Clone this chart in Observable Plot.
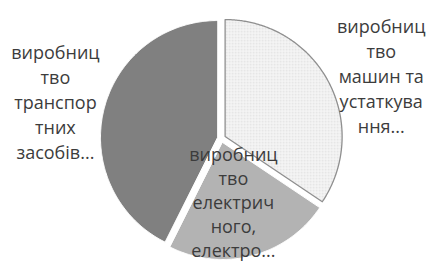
<!DOCTYPE html>
<html><head><meta charset="utf-8">
<script src="https://cdn.jsdelivr.net/npm/d3@7"></script>
<script src="https://cdn.jsdelivr.net/npm/@observablehq/plot@0.6"></script>
<style>body{margin:0;background:#fff}</style>
</head><body><div id="chart"></div>
<script>
// ---- data ----
const categories = [
  "виробництво машин та устаткування",
  "виробництво електричного, електронного та оптичного устаткування",
  "виробництво транспортних засобів"
];
const labels = [
  "виробниц\nтво\nмашин та\nустаткува\nння...",
  "виробниц\nтво\nелектрич\nного,\nелектро...",
  "виробниц\nтво\nтранспор\nтних\nзасобів..."
];
const values = [34.4, 23.0, 42.6];

// ---- style / layout ----
const W = 426, H = 264;
const cx = 221, cy = 138, Rpx = 117;          // pie centre and radius in px
const explode = 0.035;                         // slice offset (radius units)
const sliceFill = ["url(#dots)", "#b3b3b3", "#808080"];
const sliceStroke = ["#8f8f8f", "#ffffff", "#ffffff"];
const sliceStrokeWidth = [1.3, 1, 1];
const labelRadius = [1.47, 0.6, 1.45];
const labelDx = [8, -6, -1];
const labelDy = [17, -5, 2];
const labelLine = [25, 24, 25];
const font = "Open Sans";

const arcs = d3.pie().sort(null).value(d => d)(values);
const pts = [];
const lab = [];
arcs.forEach((a, i) => {
  const mid = (a.startAngle + a.endAngle) / 2;
  const ox = explode * Math.sin(mid), oy = explode * Math.cos(mid);
  pts.push({i, x: ox, y: oy});
  const n = Math.ceil((a.endAngle - a.startAngle) / 0.01);
  for (let k = 0; k <= n; k++) {
    const t = a.startAngle + (a.endAngle - a.startAngle) * k / n;
    pts.push({i, x: ox + Math.sin(t), y: oy + Math.cos(t)});
  }
  lab.push({i, category: categories[i], text: labels[i],
            x: labelRadius[i] * Math.sin(mid), y: labelRadius[i] * Math.cos(mid)});
});

const marks = [];
arcs.forEach((a, i) => {
  marks.push(Plot.line(pts.filter(d => d.i === i), {
    x: "x", y: "y", curve: "linear-closed",
    fill: sliceFill[i], stroke: sliceStroke[i], strokeWidth: sliceStrokeWidth[i]
  }));
});
arcs.forEach((a, i) => {
  marks.push(Plot.text(lab.filter(d => d.i === i), {
    x: "x", y: "y", text: "text", dx: labelDx[i], dy: labelDy[i],
    fontSize: 18, lineHeight: labelLine[i] / 18, fill: "#3c3c3c", fontFamily: font
  }));
});

const svg = Plot.plot({
  width: W, height: H, margin: 0,
  x: {domain: [-cx / Rpx, (W - cx) / Rpx], range: [0, W], axis: null},
  y: {domain: [-(H - cy) / Rpx, cy / Rpx], range: [H, 0], axis: null},
  style: {background: "#fff"},
  marks
});
const ns = "http://www.w3.org/2000/svg";
const defs = document.createElementNS(ns, "defs");
defs.innerHTML = '<pattern id="dots" width="3" height="3" patternUnits="userSpaceOnUse">' +
  '<rect width="3" height="3" fill="#f7f7f7"/><rect x="0.5" y="0.5" width="1.2" height="1.2" fill="#c8c8c8"/></pattern>';
svg.insertBefore(defs, svg.firstChild);
document.getElementById("chart").appendChild(svg);
</script>
</body></html>
